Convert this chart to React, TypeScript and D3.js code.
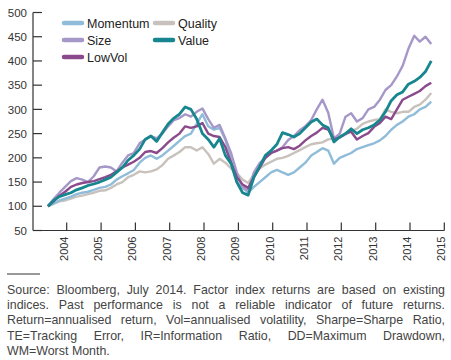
import React, { useEffect, useRef } from "react";
import * as d3 from "d3";

// bi-monthly observations, Jun 2003 .. Aug 2014 (rebased to 100)
const startMonth = new Date(2003, 5, 15);
const momentum = [100, 106, 112, 116, 120, 125, 128, 130, 134, 138, 140, 145, 155, 162, 168, 175, 190, 200, 205, 198, 205, 215, 225, 235, 245, 250, 270, 290, 265, 258, 262, 238, 195, 150, 138, 128, 140, 150, 160, 170, 175, 170, 165, 170, 180, 190, 205, 212, 220, 215, 188, 200, 205, 210, 218, 222, 226, 230, 236, 245, 258, 268, 275, 285, 290, 300, 305, 316];
const size = [100, 115, 128, 140, 152, 158, 155, 150, 162, 180, 182, 180, 172, 190, 205, 210, 230, 238, 245, 240, 250, 265, 278, 282, 290, 285, 295, 302, 280, 262, 268, 240, 210, 170, 140, 132, 170, 189, 200, 210, 215, 222, 237, 245, 257, 265, 278, 300, 320, 293, 240, 250, 285, 292, 275, 282, 300, 305, 320, 340, 350, 368, 390, 425, 452, 440, 450, 435];
const lowVol = [100, 110, 122, 130, 140, 145, 148, 150, 152, 156, 160, 165, 172, 180, 186, 192, 200, 212, 214, 210, 220, 232, 242, 250, 265, 262, 265, 272, 250, 245, 243, 222, 190, 160, 145, 138, 160, 180, 200, 210, 215, 220, 222, 218, 225, 236, 245, 252, 262, 258, 238, 242, 250, 254, 238, 245, 251, 264, 272, 285, 280, 300, 320, 326, 332, 338, 348, 355];
const quality = [100, 105, 110, 112, 116, 120, 122, 125, 128, 132, 133, 138, 145, 150, 160, 165, 172, 170, 172, 176, 185, 198, 205, 212, 222, 222, 215, 222, 208, 188, 198, 190, 178, 168, 155, 148, 165, 178, 186, 192, 198, 200, 204, 210, 216, 222, 228, 230, 232, 238, 240, 242, 248, 255, 260, 270, 275, 278, 280, 300, 295, 292, 295, 295, 305, 310, 320, 334];
const value = [100, 112, 120, 124, 128, 134, 138, 143, 146, 150, 155, 160, 170, 180, 195, 205, 218, 238, 245, 234, 252, 270, 282, 290, 305, 300, 280, 250, 238, 222, 240, 205, 188, 150, 128, 123, 160, 182, 205, 215, 228, 252, 248, 243, 250, 262, 274, 280, 268, 262, 233, 243, 250, 260, 250, 258, 262, 268, 278, 295, 318, 330, 336, 352, 358, 366, 378, 400];

const yTicks = [50, 100, 150, 200, 250, 300, 350, 400, 450, 500];
const years = [2004, 2005, 2006, 2007, 2008, 2009, 2010, 2011, 2012, 2013, 2014, 2015];

const seriesNames = ["Quality", "Momentum", "Size", "LowVol", "Value"];
const seriesValues = [quality, momentum, size, lowVol, value];
const colors: Record<string, string> = {
  Momentum: "#8fbcd9",
  Size: "#a598c9",
  Quality: "#c9c2bc",
  Value: "#17868f",
  LowVol: "#8b4a8c",
};
const legendOrder = [
  ["Momentum", "Quality"],
  ["Size", "Value"],
  ["LowVol"],
];

const footnote = [
  "Source: Bloomberg, July 2014. Factor index returns are based on existing",
  "indices. Past performance is not a reliable indicator of future returns.",
  "Return=annualised return, Vol=annualised volatility, Sharpe=Sharpe Ratio,",
  "TE=Tracking Error, IR=Information Ratio, DD=Maximum Drawdown,",
  "WM=Worst Month.",
];

const W = 451;
const H = 360;

const App = () => {
  const ref = useRef<SVGSVGElement | null>(null);

  useEffect(() => {
    const svg = d3.select(ref.current);
    svg.selectAll("*").remove();
    const font = "'Liberation Sans', Arial, sans-serif";
    const axisColor = "#333";

    const dates = momentum.map((_, i) => d3.timeMonth.offset(startMonth, i * 2));
    const x = d3
      .scaleTime()
      .domain([new Date(2004, 0, 1), new Date(2015, 0, 1)])
      .range([66.7, 444.3]);
    const y = d3.scaleLinear().domain([50, 500]).range([230.5, 12.5]);
    const x0 = 33;

    // axes
    const g = svg.append("g");
    g.append("line")
      .attr("x1", x0).attr("x2", x0)
      .attr("y1", y(500)).attr("y2", y(50))
      .attr("stroke", axisColor).attr("stroke-width", 1.2);
    g.append("line")
      .attr("x1", x0).attr("x2", x(new Date(2015, 0, 1)))
      .attr("y1", y(50)).attr("y2", y(50))
      .attr("stroke", axisColor).attr("stroke-width", 1.2);

    yTicks.forEach((t) => {
      g.append("line")
        .attr("x1", x0).attr("x2", x0 + 9)
        .attr("y1", y(t)).attr("y2", y(t))
        .attr("stroke", axisColor).attr("stroke-width", 1.2);
      g.append("text")
        .attr("x", 27).attr("y", y(t)).attr("dy", "0.36em")
        .attr("text-anchor", "end")
        .attr("font-family", font).attr("font-size", 11.5)
        .attr("fill", "#333")
        .text(t);
    });

    years.forEach((yr) => {
      const tx = x(new Date(yr, 0, 1));
      g.append("line")
        .attr("x1", tx).attr("x2", tx)
        .attr("y1", y(50)).attr("y2", y(50) - 8)
        .attr("stroke", axisColor).attr("stroke-width", 1.2);
      g.append("text")
        .attr("transform", `translate(${tx - 3},${y(50) + 6}) rotate(-90)`)
        .attr("dy", "0.36em")
        .attr("text-anchor", "end")
        .attr("font-family", font).attr("font-size", 11)
        .attr("fill", "#333")
        .text(yr);
    });

    // lines
    const line = d3
      .line<number>()
      .x((_, i) => x(dates[i]))
      .y((d) => y(d));
    seriesNames.forEach((name, i) => {
      svg.append("path")
        .datum(seriesValues[i])
        .attr("d", line)
        .attr("fill", "none")
        .attr("stroke", colors[name])
        .attr("stroke-width", name === "Value" ? 2.8 : 2.4)
        .attr("stroke-linejoin", "round");
    });

    // legend
    const legend = svg.append("g");
    legendOrder.forEach((row, r) => {
      row.forEach((name, c) => {
        const lx = 64 + c * 91;
        const ly = 23 + r * 17;
        legend.append("line")
          .attr("x1", lx).attr("x2", lx + 18)
          .attr("y1", ly).attr("y2", ly)
          .attr("stroke", colors[name]).attr("stroke-width", 4.5)
          .attr("stroke-linecap", "round");
        legend.append("text")
          .attr("x", lx + 23).attr("y", ly).attr("dy", "0.36em")
          .attr("font-family", font).attr("font-size", 12.5)
          .attr("fill", "#222")
          .text(name);
      });
    });

    // footnote
    svg.append("line")
      .attr("x1", 7).attr("x2", 40)
      .attr("y1", 274).attr("y2", 274)
      .attr("stroke", "#333").attr("stroke-width", 1);

    const left = 7;
    const right = 445;
    footnote.forEach((txt, li) => {
      const ty = 294 + li * 15.2;
      const words = txt.split(" ");
      const t = svg.append("text")
        .attr("y", ty)
        .attr("font-family", font).attr("font-size", 12.4)
        .attr("fill", "#444");
      const spans = words.map((w) => t.append("tspan").text(w));
      const widths = spans.map((s) => (s.node() as SVGTSpanElement).getComputedTextLength());
      const total = d3.sum(widths);
      const justify = li < footnote.length - 1;
      const gap = justify ? (right - left - total) / (words.length - 1) : 3.5;
      let cx = left;
      spans.forEach((s, i) => {
        s.attr("x", cx);
        cx += widths[i] + gap;
      });
    });
  }, []);

  return (
    <svg
      ref={ref}
      width={W}
      height={H}
      style={{ position: "absolute", left: 0, top: 0, background: "#fff" }}
    />
  );
};

export default App;
